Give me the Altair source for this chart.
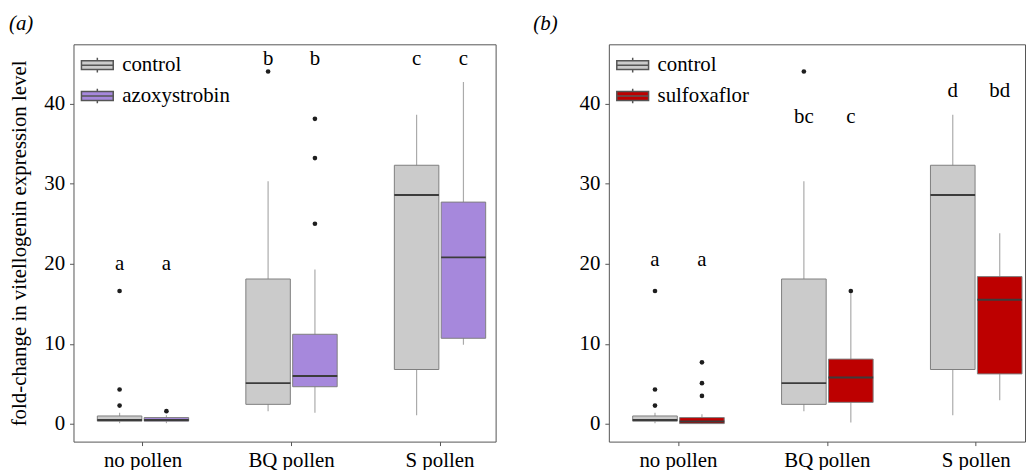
import altair as alt
import pandas as pd

FONT = "Liberation Serif"

CATEGORIES = ["no pollen", "BQ pollen", "S pollen"]

# control (shared by both panels)
CONTROL_LO = [0.1, 1.6, 1.1]
CONTROL_Q1 = [0.35, 2.45, 6.8]
CONTROL_MED = [0.5, 5.1, 28.6]
CONTROL_Q3 = [1.0, 18.1, 32.3]
CONTROL_HI = [1.4, 30.3, 38.6]
CONTROL_OUT = [[16.6, 4.3, 2.3], [44.0], []]

# azoxystrobin (panel a)
AZOXY_LO = [0.1, 1.4, 9.9]
AZOXY_Q1 = [0.35, 4.65, 10.7]
AZOXY_MED = [0.5, 6.0, 20.8]
AZOXY_Q3 = [0.8, 11.2, 27.7]
AZOXY_HI = [1.1, 19.3, 42.7]
AZOXY_OUT = [[1.6], [38.1, 33.2, 25.0], []]

# sulfoxaflor (panel b)
SULFOX_LO = [0.0, 0.2, 2.95]
SULFOX_Q1 = [0.05, 2.7, 6.25]
SULFOX_MED = [0.3, 5.8, 15.5]
SULFOX_Q3 = [0.8, 8.1, 18.4]
SULFOX_HI = [1.2, 16.5, 23.8]
SULFOX_OUT = [[7.7, 5.1, 3.5], [16.6], []]

# significance letters
LETTERS_A_CONTROL = ["a", "b", "c"]
LETTERS_A_AZOXY = ["a", "b", "c"]
LETTERS_A_Y = [20.0, 45.6, 45.6]
LETTERS_B_CONTROL = ["a", "bc", "d"]
LETTERS_B_SULFOX = ["a", "c", "bd"]
LETTERS_B_Y = [20.5, 38.3, 41.6]

Y_TICKS = [0, 10, 20, 30, 40]
GREY = "#cbcbcb"
PURPLE = "#a688dc"
RED = "#bd0000"


def box_rows(treat, lo, q1, med, q3, hi):
    return [dict(category=c, treatment=treat, lo=a, q1=b, med=m, q3=d, hi=e)
            for c, a, b, m, d, e in zip(CATEGORIES, lo, q1, med, q3, hi)]


def out_rows(treat, outs):
    return [dict(category=c, treatment=treat, value=v)
            for c, vs in zip(CATEGORIES, outs) for v in vs]


def letter_rows(treat, letters, ys):
    return [dict(category=c, treatment=treat, label=l, value=y)
            for c, l, y in zip(CATEGORIES, letters, ys)]


# legend symbol: box with median line and whisker stubs
KEY_PATH = "M-1,-0.28H1V0.28H-1Z M-1,0H1 M0,-0.28V-0.46 M0,0.28V0.46"


def panel(treat, color, box_df, out_df, let_df, title, title_dx, y_title, x_range, width):
    order = ["control", treat]
    yscale = alt.Scale(domain=[-2.2, 47.4], nice=False, zero=False)
    yaxis = alt.Axis(values=Y_TICKS, title=y_title, grid=False, domain=False,
                     tickColor="#555", tickSize=4, labelPadding=5,
                     labelFont=FONT, labelFontSize=21, labelColor="black",
                     titleFont=FONT, titleFontSize=21, titleFontWeight="normal",
                     titleColor="black", titlePadding=14)
    xenc = alt.X("category:N", sort=CATEGORIES,
                 scale=alt.Scale(range=x_range, paddingInner=0.385, paddingOuter=0),
                 axis=alt.Axis(title=None, labelAngle=0, grid=False, domain=False,
                               tickColor="#555", tickSize=4, labelPadding=4,
                               labelFont=FONT, labelFontSize=21, labelColor="black"))
    xoff = alt.XOffset("treatment:N", sort=order,
                       scale=alt.Scale(domain=order, paddingInner=0.05, paddingOuter=0))

    base = alt.Chart(box_df).encode(x=xenc, xOffset=xoff)
    whisk = base.mark_rule(color="#ababab", strokeWidth=1.2).encode(
        y=alt.Y("lo:Q", scale=yscale, axis=yaxis), y2="hi:Q")
    box = base.mark_bar(stroke="#7f7f7f", strokeWidth=1).encode(
        y=alt.Y("q1:Q", scale=yscale, axis=yaxis), y2="q3:Q",
        fill=alt.Fill("treatment:N", sort=order,
                      scale=alt.Scale(domain=order, range=[GREY, color]),
                      legend=alt.Legend(title=None, orient="none", legendX=7, legendY=4,
                                        symbolType=KEY_PATH, symbolSize=1024,
                                        symbolStrokeColor="#555", symbolStrokeWidth=1.5,
                                        symbolOpacity=1,
                                        labelFont=FONT, labelFontSize=21, labelColor="black",
                                        labelOffset=8, rowPadding=3, padding=0)))
    med = base.mark_tick(color="#3c3c3c", thickness=2, size=45, opacity=1).encode(
        y=alt.Y("med:Q", scale=yscale, axis=yaxis))
    pts = alt.Chart(out_df).mark_circle(size=22, color="#1e1e1e", opacity=1).encode(
        x=xenc, xOffset=xoff, y=alt.Y("value:Q", scale=yscale, axis=yaxis))
    txt = alt.Chart(let_df).mark_text(font=FONT, fontSize=21, color="black",
                                      baseline="middle").encode(
        x=xenc, xOffset=xoff, y=alt.Y("value:Q", scale=yscale, axis=yaxis),
        text="label:N")
    return alt.layer(whisk, box, med, pts, txt).properties(
        width=width, height=400,
        title=alt.TitleParams(text=title, anchor="start", frame="group", dx=title_dx,
                              offset=10, font=FONT, fontSize=21, fontStyle="italic",
                              fontWeight="normal", color="black"))


box_a = pd.DataFrame(box_rows("control", CONTROL_LO, CONTROL_Q1, CONTROL_MED, CONTROL_Q3, CONTROL_HI)
                     + box_rows("azoxystrobin", AZOXY_LO, AZOXY_Q1, AZOXY_MED, AZOXY_Q3, AZOXY_HI))
out_a = pd.DataFrame(out_rows("control", CONTROL_OUT) + out_rows("azoxystrobin", AZOXY_OUT))
let_a = pd.DataFrame(letter_rows("control", LETTERS_A_CONTROL, LETTERS_A_Y)
                     + letter_rows("azoxystrobin", LETTERS_A_AZOXY, LETTERS_A_Y))

box_b = pd.DataFrame(box_rows("control", CONTROL_LO, CONTROL_Q1, CONTROL_MED, CONTROL_Q3, CONTROL_HI)
                     + box_rows("sulfoxaflor", SULFOX_LO, SULFOX_Q1, SULFOX_MED, SULFOX_Q3, SULFOX_HI))
out_b = pd.DataFrame(out_rows("control", CONTROL_OUT) + out_rows("sulfoxaflor", SULFOX_OUT))
let_b = pd.DataFrame(letter_rows("control", LETTERS_B_CONTROL, LETTERS_B_Y)
                     + letter_rows("sulfoxaflor", LETTERS_B_SULFOX, LETTERS_B_Y))

pa = panel("azoxystrobin", PURPLE, box_a, out_a, let_a, "(a)", -65,
           "fold-change in vitellogenin expression level", [24, 415], 425)
pb = panel("sulfoxaflor", RED, box_b, out_b, let_b, "(b)", -76,
           None, [24, 416], 419)

chart = alt.hconcat(pa, pb, spacing=36).resolve_scale(
    x="independent", y="independent", xOffset="independent", fill="independent"
).properties(
    padding={"left": 8, "top": 11, "right": 0, "bottom": 0},
    background="white",
).configure(font=FONT).configure_axis(
    labelFont=FONT, titleFont=FONT
).configure_legend(labelFont=FONT).configure_text(font=FONT).configure_view(
    stroke="#555", strokeWidth=1)

chart.save("out.html", embed_options={"renderer": "svg", "actions": False})
